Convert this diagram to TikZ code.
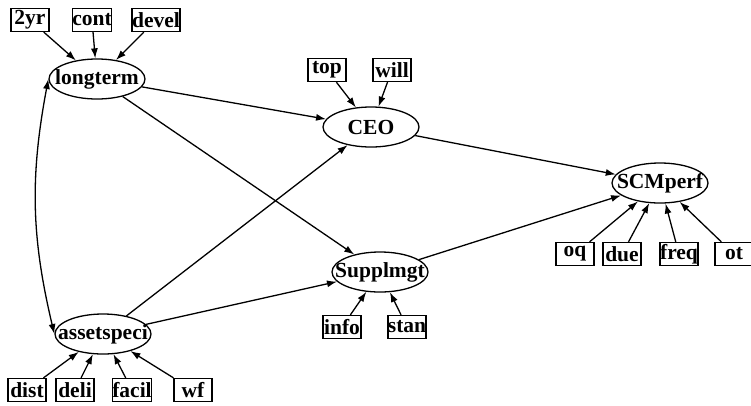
\documentclass[tikz,border=0pt]{standalone}
\usepackage{fontspec}
\setmainfont{Liberation Serif}
\usepackage{tikz}
\usetikzlibrary{shapes,arrows,positioning,calc,arrows.meta}

\newcommand{\ctext}[1]{\makebox[0pt]{#1}}

\begin{document}
\begin{tikzpicture}[
    x=1pt, y=-1pt,
    latent/.style={ellipse, draw, line width=1.3pt, minimum width=96pt, minimum height=40pt, inner sep=0pt, font=\fontsize{21.5}{24}\bfseries\selectfont},
    item/.style={rectangle, draw, line width=1.3pt, minimum width=38pt, minimum height=23pt, inner xsep=0pt, inner ysep=0pt, font=\fontsize{21.5}{24}\bfseries\selectfont},
    link/.style={-{Latex[length=10pt, width=7pt]}, line width=1.3pt},
    both/.style={{Latex[length=10pt, width=7pt]}-{Latex[length=10pt, width=7pt]}, line width=1.3pt},
]
    \useasboundingbox (0,0) rectangle (751,405);

    % Latent variables
    \node[latent] (longterm) at (97, 79) {\ctext{longterm}};
    \node[latent] (ceo) at (371, 127) {\ctext{CEO}};
    \node[latent] (scmperf) at (660, 183) {\ctext{SCMperf}};
    \node[latent] (supplmgt) at (380, 272) {\ctext{Supplmgt}};
    \node[latent] (assetspeci) at (103, 334) {\ctext{assetspeci}};

    % Indicators
    \node[item] (yr) at (30, 20) {2yr};
    \node[item] (cont) at (92, 20) {cont};
    \node[item] (devel) at (156, 20) {devel};

    \node[item] (top) at (327, 70) {top};
    \node[item] (will) at (392, 70) {will};

    \node[item] (oq) at (575, 254) {oq};
    \node[item] (due) at (622, 254) {due};
    \node[item] (freq) at (679, 254) {freq};
    \node[item] (ot) at (734, 254) {ot};

    \node[item] (info) at (342, 327) {info};
    \node[item] (stan) at (407, 327) {stan};

    \node[item] (dist) at (27, 390) {dist};
    \node[item] (deli) at (75, 390) {deli};
    \node[item] (facil) at (132, 390) {facil};
    \node[item] (wf) at (193, 390) {wf};

    % Measurement arrows
    \foreach \n in {yr, cont, devel} {
        \draw[link] (\n) -- (longterm);
    }
    \foreach \n in {top, will} {
        \draw[link] (\n) -- (ceo);
    }
    \foreach \n in {oq, due, freq, ot} {
        \draw[link] (\n) -- (scmperf);
    }
    \foreach \n in {info, stan} {
        \draw[link] (\n) -- (supplmgt);
    }
    \foreach \n in {dist, deli, facil, wf} {
        \draw[link] (\n) -- (assetspeci);
    }

    % Structural arrows
    \draw[link] (longterm) -- (ceo);
    \draw[link] (longterm) -- (supplmgt);
    \draw[link] (assetspeci) -- (ceo);
    \draw[link] (assetspeci) -- (supplmgt);
    \draw[link] (ceo) -- (scmperf);
    \draw[link] (supplmgt) -- (scmperf);
    \draw[both] (longterm.west) to[bend right=12] (assetspeci.west);
\end{tikzpicture}
\end{document}
